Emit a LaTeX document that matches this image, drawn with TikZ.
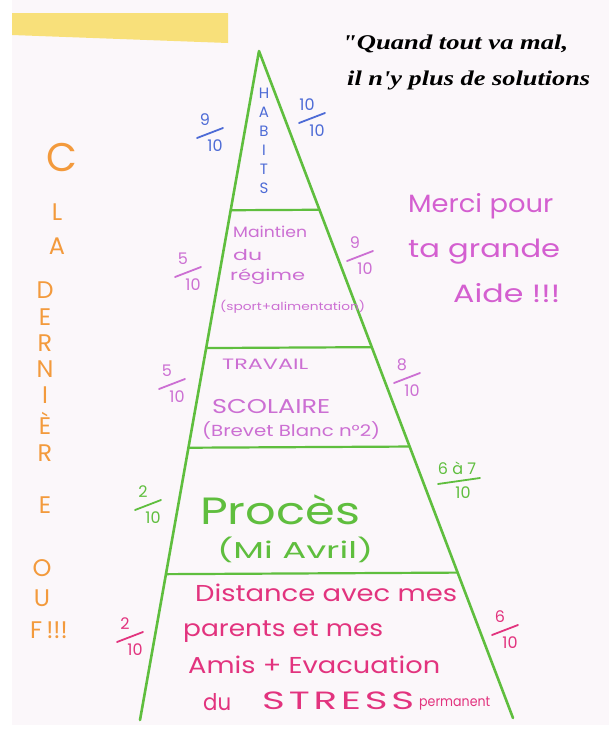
\documentclass[tikz,border=0pt]{standalone}
\usepackage{graphicx}
\usepackage{fontspec}
\setmainfont{Poppins}
\newfontfamily\quotefont{Liberation Serif}
\newfontfamily\spacedfont[LetterSpace=10]{Poppins}
\usetikzlibrary{calc}
\definecolor{paper}{HTML}{FBF7FA}
\definecolor{hl}{HTML}{F8E07A}
\definecolor{pgreen}{HTML}{5FBE3E}
\definecolor{pblue}{HTML}{4D6BD6}
\definecolor{pviolet}{HTML}{CC6FD3}
\definecolor{pmerci}{HTML}{D45FD0}
\definecolor{ppink}{HTML}{E2337E}
\definecolor{porange}{HTML}{F39A3C}
\newcommand\fitw[2]{\resizebox{#1}{\height}{#2}}
\tikzset{
  pyr/.style={draw=pgreen, line width=2.6pt, line cap=round, line join=round},
  lvl/.style={draw=pgreen, line width=2.2pt, line cap=round},
  txt/.style={inner sep=0pt, anchor=west},
  fnum/.style={inner sep=0pt, anchor=center, font=\fontsize{16}{16}\selectfont},
  orange/.style={inner sep=0pt, anchor=center, text=porange, font=\fontsize{24}{24}\selectfont},
  habit/.style={inner sep=0pt, anchor=center, text=pblue, font=\fontsize{15}{15}\selectfont},
  qfont/.style={font=\quotefont\itshape\bfseries\fontsize{21}{21}\selectfont},
}
% fraction mark: name, x, y, colour, numerator, denominator
\newcommand\fracmark[6]{%
  \node[fnum,text=#4] (#1n) at (#2-5,#3-13) {#5};
  \node[fnum,text=#4] (#1d) at (#2+5,#3+13) {#6};
  \draw[#4,line width=1.8pt,line cap=round] (#2-13,#3+5) -- (#2+13,#3-5);
}
\begin{document}
\begin{tikzpicture}[x=1pt,y=-1pt]
\useasboundingbox (0,0) rectangle (609,729);
\fill[white] (0,0) rectangle (609,729);
\fill[paper] (12,0) rectangle (609,725);
\fill[hl] (12,13) -- (228,13) -- (228,43) -- (12,35) -- cycle;

% pyramid
\coordinate (apex) at (259,51);
\coordinate (bl) at (140,720);
\coordinate (br) at (513,718);
\draw[pyr] (bl) -- (apex) -- (br);
\foreach \t/\n in {0.238/a,0.444/b,0.593/c,0.782/d}{
  \coordinate (L\n) at ($(apex)!\t!(bl)$);
  \coordinate (R\n) at ($(apex)!\t!(br)$);
  \draw[lvl] (L\n) -- (R\n);
}

% quote
\node[txt,qfont] (q1) at (342,44) {\fitw{226pt}{\textquotedbl Quand tout va mal,}};
\node[txt,qfont] (q2) at (347,80) {\fitw{243pt}{il n'y plus de solutions}};

% HABITS
\foreach \c [count=\i] in {H,A,B,I,T,S}{
  \node[habit] (h\i) at (264,74+19*\i) {\c};
}
\fracmark{f1}{210}{133}{pblue}{9}{10}
\fracmark{f2}{312}{118}{pblue}{10}{10}

% Maintien du regime
\node[txt,text=pviolet,font=\fontsize{15}{15}\selectfont] (m1) at (233,232) {\fitw{74pt}{Maintien}};
\node[txt,text=pviolet,font=\fontsize{15}{15}\selectfont] (m2) at (233,255) {\fitw{29pt}{du}};
\node[txt,text=pviolet,font=\fontsize{15}{15}\selectfont] (m3) at (230,277) {\fitw{75pt}{régime}};
\node[txt,text=pviolet,font=\fontsize{11}{11}\selectfont] (m4) at (220,307) {\fitw{145pt}{(sport+alimentation)}};
\fracmark{f3}{188}{272}{pviolet}{5}{10}
\fracmark{f4}{360}{256}{pviolet}{9}{10}

% Merci
\node[txt,text=pmerci,font=\fontsize{25}{25}\selectfont] (me1) at (408,206) {\fitw{145pt}{Merci pour}};
\node[txt,text=pmerci,font=\fontsize{25}{25}\selectfont] (me2) at (408,252) {\fitw{152pt}{ta grande}};
\node[txt,text=pmerci,font=\fontsize{25}{25}\selectfont] (me3) at (453,293) {\fitw{107pt}{Aide !!!}};

% Travail scolaire
\node[txt,text=pviolet,font=\fontsize{15}{15}\selectfont] (t1) at (222,364) {\fitw{86pt}{TRAVAIL}};
\node[txt,text=pviolet,font=\fontsize{20}{20}\selectfont] (t2) at (212,407) {\fitw{118pt}{SCOLAIRE}};
\node[txt,text=pviolet,font=\fontsize{16}{16}\selectfont] (t3) at (202,431) {\fitw{178pt}{(Brevet Blanc n°2)}};
\fracmark{f5}{172}{384}{pviolet}{5}{10}
\fracmark{f6}{407}{378}{pviolet}{8}{10}

% Proces
\node[txt,text=pgreen,font=\fontsize{38}{38}\selectfont] (p1) at (200,510) {\fitw{160pt}{Procès}};
\node[txt,text=pgreen,font=\fontsize{23}{23}\selectfont] (p2) at (217,550) {\fitw{156pt}{(Mi Avril)}};
\fracmark{f7}{148}{505}{pgreen}{2}{10}
\node[fnum,text=pgreen] (f8n) at (457,468) {6 à 7};
\node[fnum,text=pgreen] (f8d) at (463,493) {10};
\draw[pgreen,line width=1.8pt,line cap=round] (438,484) -- (480,478);

% bottom block
\node[txt,text=ppink,font=\fontsize{23}{23}\selectfont] (d1) at (195,593) {\fitw{262pt}{Distance avec mes}};
\node[txt,text=ppink,font=\fontsize{23}{23}\selectfont] (d2) at (183,632) {\fitw{200pt}{parents et mes}};
\node[txt,text=ppink,font=\fontsize{23}{23}\selectfont] (d3) at (188,665) {\fitw{252pt}{Amis + Evacuation}};
\node[txt,text=ppink,font=\fontsize{23}{23}\selectfont] (d4) at (203,702) {\fitw{28pt}{du}};
\node[txt,text=ppink,font=\spacedfont\fontsize{25}{25}\selectfont] (d4b) at (262,701) {\fitw{152pt}{STRESS}};
\node[txt,text=ppink,font=\fontsize{14}{14}\selectfont] (d5) at (419,704) {\fitw{71pt}{permanent}};
\fracmark{f9}{130}{637}{ppink}{2}{10}
\fracmark{f10}{505}{630}{ppink}{6}{10}

% C la derniere ouf
\node[orange,font=\fontsize{40}{40}\selectfont] (o1) at (62,157) {C};
\node[orange] (o2) at (57,212) {L};
\node[orange] (o3) at (57,246) {A};
\foreach \c/\y [count=\i] in {D/290,E/317,R/343,N/369,I/395,È/423,R/453,E/505}{
  \node[orange] (od\i) at (45,\y) {\c};
}
\node[orange] (ou1) at (42,568) {O};
\node[orange] (ou2) at (42,598) {U};
\node[orange,anchor=west] (ou3) at (30,630) {F\,!!!};
\end{tikzpicture}
\end{document}
